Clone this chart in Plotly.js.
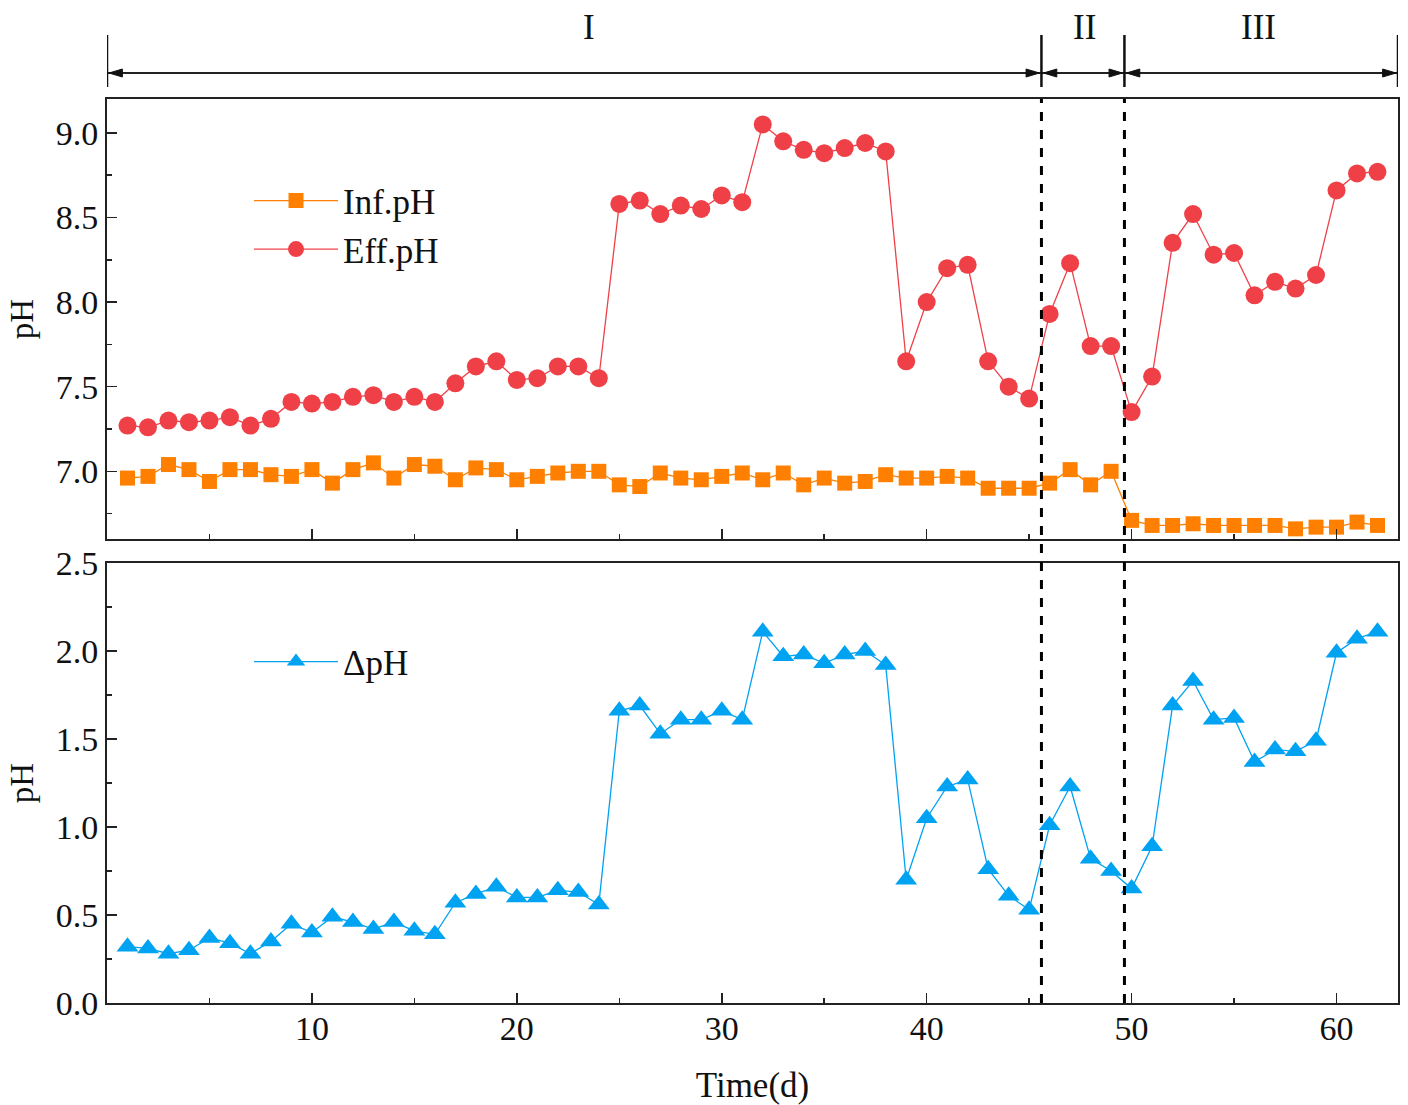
<!DOCTYPE html>
<html>
<head>
<meta charset="utf-8">
<script src="https://cdn.plot.ly/plotly-3.0.1.min.js"></script>
<style>html,body{margin:0;padding:0;background:#fff;}#chart{width:1408px;height:1105px;}</style>
</head>
<body>
<div id="chart"></div>
<script>
const days = [1,2,3,4,5,6,7,8,9,10,11,12,13,14,15,16,17,18,19,20,21,22,23,24,25,26,27,28,29,30,31,32,33,34,35,36,37,38,39,40,41,42,43,44,45,46,47,48,49,50,51,52,53,54,55,56,57,58,59,60,61,62];
const infPH = [6.96,6.97,7.04,7.01,6.94,7.01,7.01,6.98,6.97,7.01,6.93,7.01,7.05,6.96,7.04,7.03,6.95,7.02,7.01,6.95,6.97,6.99,7.00,7.00,6.92,6.91,6.99,6.96,6.95,6.97,6.99,6.95,6.99,6.92,6.96,6.93,6.94,6.98,6.96,6.96,6.97,6.96,6.90,6.90,6.90,6.93,7.01,6.92,7.00,6.71,6.68,6.68,6.69,6.68,6.68,6.68,6.68,6.66,6.67,6.67,6.70,6.68];
const effPH = [7.27,7.26,7.30,7.29,7.30,7.32,7.27,7.31,7.41,7.40,7.41,7.44,7.45,7.41,7.44,7.41,7.52,7.62,7.65,7.54,7.55,7.62,7.62,7.55,8.58,8.60,8.52,8.57,8.55,8.63,8.59,9.05,8.95,8.90,8.88,8.91,8.94,8.89,7.65,8.00,8.20,8.22,7.65,7.50,7.43,7.93,8.23,7.74,7.74,7.35,7.56,8.35,8.52,8.28,8.29,8.04,8.12,8.08,8.16,8.66,8.76,8.77];
const deltaPH = [0.32,0.31,0.28,0.30,0.37,0.34,0.28,0.35,0.45,0.40,0.49,0.46,0.42,0.46,0.41,0.39,0.57,0.62,0.66,0.60,0.60,0.64,0.63,0.56,1.66,1.69,1.53,1.61,1.61,1.66,1.61,2.11,1.97,1.98,1.93,1.98,2.00,1.92,0.70,1.05,1.23,1.27,0.76,0.61,0.53,1.01,1.23,0.82,0.75,0.65,0.89,1.69,1.83,1.61,1.62,1.37,1.44,1.43,1.49,1.99,2.07,2.11];
const phaseBounds = [0, 45.6, 49.65, 63];
const phaseLabels = ['I', 'II', 'III'];
const phaseLabelX = [23.5, 47.7, 56.2];
const xTicks = [10, 20, 30, 40, 50, 60];

const FONT = 'Liberation Serif, Times New Roman, serif';
const cInf = '#FF8000', cEff = '#EF4048', cDel = '#00A2F2';

const traces = [
  {x: days, y: infPH, name: 'Inf.pH', xaxis: 'x2', yaxis: 'y2', mode: 'lines+markers',
   line: {color: cInf, width: 1.3}, marker: {symbol: 'square', size: 15, color: cInf}, legend: 'legend'},
  {x: days, y: effPH, name: 'Eff.pH', xaxis: 'x2', yaxis: 'y2', mode: 'lines+markers',
   line: {color: cEff, width: 1.3}, marker: {symbol: 'circle', size: 18, color: cEff}, legend: 'legend'},
  {x: days, y: deltaPH, name: '\u0394pH', xaxis: 'x', yaxis: 'y', mode: 'lines+markers',
   line: {color: cDel, width: 1.3}, marker: {symbol: 'triangle-up', size: 19, color: cDel}, legend: 'legend2'}
];

const axCommon = {
  showline: true, mirror: true, linewidth: 2, linecolor: '#222', showgrid: false, zeroline: false,
  ticks: 'inside', ticklen: 10, tickwidth: 1.5, tickcolor: '#222',
  tickfont: {family: FONT, size: 34, color: '#111'}
};

const yPix = 73, barTop = 35, barBot = 87;
const plotTop = 99, plotBot = 1003, H = plotBot - plotTop;
const toPaper = p => (plotBot - p) / H;

const shapes = [];
const annotations = [];
[phaseBounds[1], phaseBounds[2]].forEach(b => {
  shapes.push({type: 'line', xref: 'x', yref: 'paper', x0: b, x1: b, y0: 0, y1: 1,
    line: {color: '#000', width: 3, dash: 'dash'}});
});
shapes.push({type: 'line', xref: 'x', yref: 'paper', x0: phaseBounds[0], x1: phaseBounds[3],
  y0: toPaper(yPix), y1: toPaper(yPix), line: {color: '#222', width: 2}});
phaseBounds.forEach(b => {
  shapes.push({type: 'line', xref: 'x', yref: 'paper', x0: b, x1: b, y0: toPaper(barBot), y1: toPaper(barTop),
    line: {color: '#111', width: 2.5}});
});
const yc = toPaper(yPix), dy = 4 / H;
for (let i = 0; i < 3; i++) {
  const a = phaseBounds[i], b = phaseBounds[i + 1];
  const w = 0.75;
  shapes.push({type: 'path', xref: 'x', yref: 'paper', fillcolor: '#111', line: {color: '#111', width: 1},
    path: `M${a + 0.1},${yc} L${a + w},${yc + dy} L${a + w},${yc - dy} Z`});
  shapes.push({type: 'path', xref: 'x', yref: 'paper', fillcolor: '#111', line: {color: '#111', width: 1},
    path: `M${b - 0.1},${yc} L${b - w},${yc + dy} L${b - w},${yc - dy} Z`});
  annotations.push({xref: 'x', yref: 'paper', x: phaseLabelX[i], y: toPaper(27), text: phaseLabels[i],
    showarrow: false, font: {family: FONT, size: 35, color: '#111'}, xanchor: 'center', yanchor: 'middle'});
}

const layout = {
  width: 1408, height: 1105,
  margin: {l: 107, r: 10, t: plotTop, b: 1105 - plotBot},
  paper_bgcolor: '#fff', plot_bgcolor: '#fff',
  font: {family: FONT, color: '#111'},
  xaxis: Object.assign({}, axCommon, {domain: [0, 1], range: [0, 63], anchor: 'y', tickvals: xTicks,
    ticklabelstandoff: -6,
    minor: {dtick: 5, tick0: 0, ticks: 'inside', ticklen: 5, tickwidth: 1.5, tickcolor: '#222'},
    title: {text: 'Time(d)', font: {family: FONT, size: 35, color: '#111'}, standoff: 28}}),
  xaxis2: Object.assign({}, axCommon, {domain: [0, 1], range: [0, 63], anchor: 'y2', matches: 'x', tickvals: xTicks,
    showticklabels: false,
    minor: {dtick: 5, tick0: 0, ticks: 'inside', ticklen: 5, tickwidth: 1.5, tickcolor: '#222'}}),
  yaxis: Object.assign({}, axCommon, {domain: [0, 440 / H], range: [0, 2.5], anchor: 'x', tick0: 0, dtick: 0.5,
    tickformat: '.1f', minor: {dtick: 0.25, tick0: 0, ticks: 'inside', ticklen: 5, tickwidth: 1.5, tickcolor: '#222'},
    title: {text: 'pH', font: {family: FONT, size: 33, color: '#111'}, standoff: 12}}),
  yaxis2: Object.assign({}, axCommon, {domain: [(plotBot - 539) / H, 1], range: [6.6, 9.2], anchor: 'x2', tick0: 7, dtick: 0.5,
    tickformat: '.1f', minor: {dtick: 0.25, tick0: 7, ticks: 'inside', ticklen: 5, tickwidth: 1.5, tickcolor: '#222'},
    title: {text: 'pH', font: {family: FONT, size: 33, color: '#111'}, standoff: 12}}),
  legend: {x: 0.11, y: 0.92, xanchor: 'left', yanchor: 'top', bgcolor: 'rgba(0,0,0,0)',
    font: {family: FONT, size: 35, color: '#111'}, itemwidth: 84, tracegroupgap: 0},
  legend2: {x: 0.11, y: 0.41, xanchor: 'left', yanchor: 'top', bgcolor: 'rgba(0,0,0,0)',
    font: {family: FONT, size: 35, color: '#111'}, itemwidth: 84},
  showlegend: true,
  shapes: shapes,
  annotations: annotations
};

Plotly.newPlot('chart', traces, layout, {staticPlot: true, displayModeBar: false});
</script>
</body>
</html>
